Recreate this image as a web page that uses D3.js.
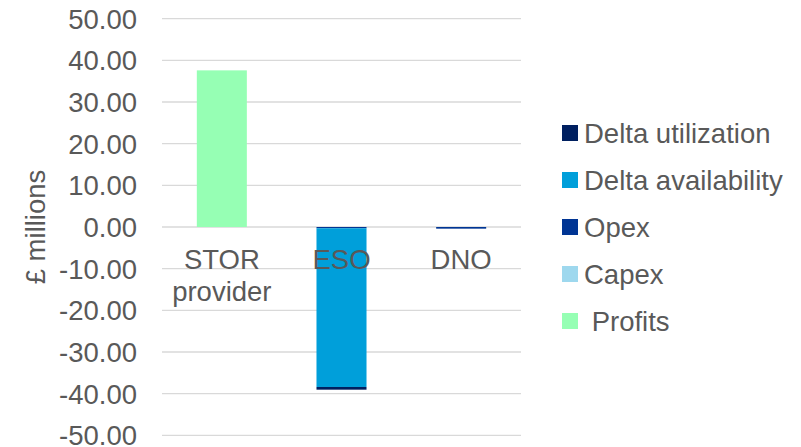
<!DOCTYPE html>
<html>
<head>
<meta charset="utf-8">
<script src="https://cdn.jsdelivr.net/npm/d3@7"></script>
<style>
  body { margin: 0; background: #fff; }
  svg text { font-family: "Liberation Sans", Arial, sans-serif; fill: #595959; }
</style>
</head>
<body>
<div id="chart"></div>
<script>
// categories (label lines) and stacked series, £ millions
const categories = ["STOR provider", "ESO", "DNO"];
const categoryLines = [["STOR", "provider"], ["ESO"], ["DNO"]];
const profits = [37.6, 0, 0];
const capex = [0, 0, 0];
const opex = [0, -0.3, -0.4];
const deltaAvailability = [0, -38.1, 0];
const deltaUtilization = [0, -0.65, 0];
const yTicks = [50, 40, 30, 20, 10, 0, -10, -20, -30, -40, -50];

const seriesNames = ["Profits", "Capex", "Opex", "Delta availability", "Delta utilization"];
const seriesValues = [profits, capex, opex, deltaAvailability, deltaUtilization];
const colors = ["#96ffb4", "#9ed8ee", "#003594", "#009fda", "#002060"];
const legendLabels = [" Profits", "Capex", "Opex", "Delta availability", "Delta utilization"];

function draw() {
    const width = 801, height = 447;
    const margin = { top: 18.7, right: 280, bottom: 11.7, left: 162 };
    const plotW = width - margin.left - margin.right;
    const plotH = height - margin.top - margin.bottom;

    const svg = d3.select("#chart").append("svg")
        .attr("width", width)
        .attr("height", height);

    const g = svg.append("g")
        .attr("transform", "translate(" + margin.left + "," + margin.top + ")");

    const x = d3.scaleBand().domain(categories).range([0, plotW])
        .paddingInner(0.582).paddingOuter(0.291);
    const y = d3.scaleLinear().domain([-50, 50]).range([plotH, 0]);

    // gridlines
    g.selectAll(".grid").data(yTicks).join("line")
        .attr("x1", 0).attr("x2", plotW)
        .attr("y1", d => y(d)).attr("y2", d => y(d))
        .attr("stroke", "#d9d9d9").attr("stroke-width", 1.3);

    // y tick labels (plain hyphen minus, like the original)
    g.selectAll(".ytick").data(yTicks).join("text")
        .attr("x", -25).attr("y", d => y(d))
        .attr("dy", "0.36em")
        .attr("text-anchor", "end")
        .attr("font-size", 27.5)
        .text(d => d.toFixed(2));

    // y title
    svg.append("text")
        .attr("transform", "translate(45," + (margin.top + y(0)) + ") rotate(-90)")
        .attr("text-anchor", "middle")
        .attr("font-size", 27.5)
        .text("£ millions");

    // stacked data
    const rows = categories.map((c, i) => {
        const r = { cat: c };
        seriesNames.forEach((s, j) => r[s] = seriesValues[j][i]);
        return r;
    });
    const stack = d3.stack().keys(seriesNames).offset(d3.stackOffsetDiverging);
    const layers = stack(rows);

    g.selectAll(".layer").data(layers).join("g")
        .attr("fill", (d, i) => colors[i])
        .selectAll("rect").data(d => d).join("rect")
        .attr("x", d => x(d.data.cat))
        .attr("width", x.bandwidth())
        .attr("y", d => y(Math.max(d[0], d[1])))
        .attr("height", d => Math.abs(y(d[0]) - y(d[1])));

    // category labels below the zero line
    categoryLines.forEach((lines, i) => {
        const t = g.append("text")
            .attr("x", x(categories[i]) + x.bandwidth() / 2)
            .attr("y", y(0) + 42)
            .attr("text-anchor", "middle")
            .attr("font-size", 27.5);
        lines.forEach((ln, k) => {
            t.append("tspan")
                .attr("x", x(categories[i]) + x.bandwidth() / 2)
                .attr("dy", k === 0 ? 0 : 32)
                .text(ln);
        });
    });

    // legend (reverse series order, top to bottom)
    const legendOrder = [4, 3, 2, 1, 0];
    const lg = svg.append("g").attr("transform", "translate(562,133)");
    legendOrder.forEach((idx, k) => {
        const row = lg.append("g").attr("transform", "translate(0," + (k * 47) + ")");
        row.append("rect")
            .attr("x", 0).attr("y", -8)
            .attr("width", 16).attr("height", 16)
            .attr("fill", colors[idx]);
        row.append("text")
            .attr("x", 22).attr("y", 0)
            .attr("dy", "0.36em")
            .attr("font-size", 27.5)
            .style("white-space", "pre")
            .text(legendLabels[idx]);
    });
}
draw();
</script>
</body>
</html>
